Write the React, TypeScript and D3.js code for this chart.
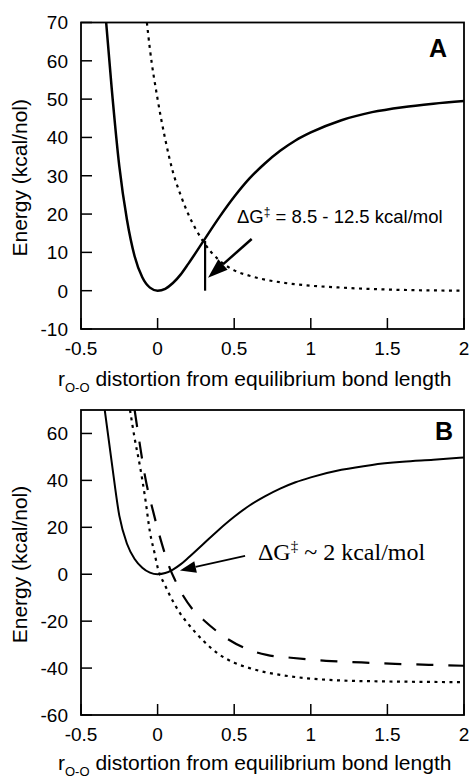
import * as d3 from "d3";

const W = 470;
const H = 781;
const LEFT = 81;
const RIGHT = 464;

const xTicks = [-0.5, 0, 0.5, 1, 1.5, 2];
const yTicksA = [-10, 0, 10, 20, 30, 40, 50, 60, 70];
const yTicksB = [-60, -40, -20, 0, 20, 40, 60];

// panel A: Morse well (solid) and repulsive curve (dotted)
const solidAx = [-0.34, -0.3, -0.25, -0.2, -0.15, -0.1, -0.05, 0, 0.05, 0.1, 0.15, 0.2, 0.3, 0.4, 0.5, 0.6, 0.7, 0.8, 0.9, 1.0, 1.2, 1.4, 1.6, 1.8, 2.0];
const solidAy = [72, 53, 32.5, 18.5, 9, 3.5, 0.8, 0, 0.5, 2, 4.2, 7, 13, 19, 24.5, 29.3, 33.2, 36.5, 39.2, 41.3, 44.5, 46.6, 47.9, 48.8, 49.5];
const dotAx = [-0.07, -0.05, 0, 0.05, 0.1, 0.15, 0.2, 0.25, 0.3, 0.4, 0.5, 0.6, 0.7, 0.8, 1.0, 1.2, 1.5, 2.0];
const dotAy = [70, 63, 50, 39.5, 31, 25, 20, 16, 12.7, 8, 5.3, 3.9, 2.9, 2.2, 1.3, 0.8, 0.3, 0];

// panel B: same well, two product curves
const solidBx = [-0.345, -0.3, -0.25, -0.2, -0.15, -0.1, -0.05, 0, 0.05, 0.1, 0.15, 0.2, 0.3, 0.4, 0.5, 0.6, 0.7, 0.8, 0.9, 1.0, 1.2, 1.4, 1.6, 1.8, 2.0];
const solidBy = [70, 48, 25, 13, 6.5, 2.8, 0.7, 0, 0.5, 2, 4.2, 7, 13, 19, 24.5, 29.3, 33.2, 36.5, 39.2, 41.3, 44.5, 46.6, 47.9, 48.8, 49.8];
const dotBx = [-0.18, -0.15, -0.115, -0.08, -0.05, -0.02, 0, 0.05, 0.1, 0.15, 0.2, 0.3, 0.4, 0.5, 0.6, 0.7, 0.8, 1.0, 1.2, 1.5, 2.0];
const dotBy = [70, 58, 46, 32, 18, 9, 3, -4.9, -11.5, -17, -21.2, -28.5, -34.1, -37.7, -40, -41.7, -42.9, -44.5, -45.3, -45.7, -46];
const dashBx = [-0.15, -0.12, -0.08, -0.03, 0.03, 0.08, 0.114, 0.17, 0.233, 0.3, 0.45, 0.6, 0.712, 0.87, 1.1, 1.33, 1.55, 1.77, 2.0];
const dashBy = [70, 57, 41, 27, 12.5, 2.5, -2.5, -9.5, -15.3, -19.5, -27.3, -32.3, -34.4, -35.6, -36.9, -37.6, -38.2, -38.6, -39];

const barA = { x: 0.31, y0: 0, y1: 13 };
const arrowA = { x0: 0.614, y0: 13.5, x1: 0.329, y1: 3.4 };
const arrowB = { x0: 0.571, y0: 7.8, x1: 0.146, y1: 1.6 };

const sans = "'Liberation Sans', Arial, sans-serif";
const serif = "'Liberation Serif', 'Times New Roman', serif";

type Curve = { xs: number[]; ys: number[]; dash?: string; width: number };

function Arrow(props: { p0: [number, number]; p1: [number, number]; len: number; half: number; width: number }) {
  const { p0, p1, len, half, width } = props;
  const dx = p1[0] - p0[0], dy = p1[1] - p0[1];
  const d = Math.hypot(dx, dy);
  const ux = dx / d, uy = dy / d;
  const bx = p1[0] - ux * len, by = p1[1] - uy * len;
  const pts = [
    [p1[0], p1[1]],
    [bx - uy * half, by + ux * half],
    [bx + uy * half, by - ux * half],
  ];
  return (
    <g>
      <line x1={p0[0]} y1={p0[1]} x2={bx} y2={by} stroke="#000" strokeWidth={width} />
      <polygon points={pts.map((p) => p.join(",")).join(" ")} fill="#000" />
    </g>
  );
}

function Panel(props: {
  id: string; top: number; bottom: number; yDomain: [number, number]; yTicks: number[];
  curves: Curve[]; label: string; labelDx: number; labelDy: number; xLabelDy: number;
  make: (x: d3.ScaleLinear<number, number>, y: d3.ScaleLinear<number, number>) => any;
}) {
  const { id, top, bottom, yDomain, yTicks, curves, label, labelDx, labelDy, xLabelDy, make } = props;
  const x = d3.scaleLinear([-0.5, 2], [LEFT, RIGHT]);
  const y = d3.scaleLinear(yDomain, [bottom, top]);
  const tickLen = 11;
  return (
    <g>
      <defs>
        <clipPath id={id}>
          <rect x={LEFT} y={top} width={RIGHT - LEFT} height={bottom - top} />
        </clipPath>
      </defs>
      <g clipPath={`url(#${id})`}>
        {curves.map((c, i) => {
          const gen = d3.line<number>().curve(d3.curveMonotoneX).x((_, k) => x(c.xs[k])).y((_, k) => y(c.ys[k]));
          return (
            <path key={i} d={gen(c.xs) || ""} fill="none" stroke="#000" strokeWidth={c.width}
              strokeDasharray={c.dash} strokeLinejoin="round" />
          );
        })}
      </g>
      {make(x, y)}
      {yTicks.map((t) => (
        <g key={t}>
          <line x1={LEFT} x2={LEFT + tickLen} y1={y(t)} y2={y(t)} stroke="#000" strokeWidth={1.5} />
          <text x={LEFT - 13} y={y(t)} dy="0.36em" textAnchor="end" fontFamily={sans} fontSize={19}>{t}</text>
        </g>
      ))}
      {xTicks.map((t) => (
        <g key={t}>
          <line x1={x(t)} x2={x(t)} y1={bottom} y2={bottom - tickLen} stroke="#000" strokeWidth={1.5} />
          <text x={x(t)} y={bottom + 26} textAnchor="middle" fontFamily={sans} fontSize={19}>{t}</text>
        </g>
      ))}
      <rect x={LEFT} y={top} width={RIGHT - LEFT} height={bottom - top} fill="none" stroke="#000" strokeWidth={1.8} />
      <text x={RIGHT - labelDx} y={top + labelDy} textAnchor="end" fontFamily={sans} fontWeight="bold" fontSize={25}>{label}</text>
      <text transform={`translate(27,${(top + bottom) / 2 + 2}) rotate(-90)`} textAnchor="middle" fontFamily={sans} fontSize={21}>
        Energy (kcal/nol)
      </text>
      <text x={58} y={bottom + xLabelDy} fontFamily={sans} fontSize={21}>
        r<tspan fontSize={13} dy={6}>O-O</tspan><tspan dy={-6}> distortion from equilibrium bond length</tspan>
      </text>
    </g>
  );
}

export default function App() {
  return (
    <svg width={W} height={H} style={{ position: "absolute", left: 0, top: 0, background: "#fff" }}>
      <Panel
        id="clipA" top={22.5} bottom={329} yDomain={[-10, 70]} yTicks={yTicksA}
        label="A" labelDx={17} labelDy={34.5} xLabelDy={57}
        curves={[
          { xs: dotAx, ys: dotAy, dash: "3,4.5", width: 2.2 },
          { xs: solidAx, ys: solidAy, width: 2.5 },
        ]}
        make={(x, y) => (
          <g>
            <line x1={x(barA.x)} x2={x(barA.x)} y1={y(barA.y0)} y2={y(barA.y1)} stroke="#000" strokeWidth={2.2} />
            <Arrow p0={[x(arrowA.x0), y(arrowA.y0)]} p1={[x(arrowA.x1), y(arrowA.y1)]} len={20} half={7} width={2.5} />
            <text x={x(0.518)} y={y(17.7)} fontFamily={sans} fontSize={18.5}>
              ΔG<tspan fontSize={12} dy={-7}>‡</tspan><tspan dy={7}> = 8.5 - 12.5 kcal/mol</tspan>
            </text>
          </g>
        )}
      />
      <Panel
        id="clipB" top={410} bottom={715} yDomain={[-60, 70]} yTicks={yTicksB}
        label="B" labelDx={11} labelDy={30} xLabelDy={55}
        curves={[
          { xs: dotBx, ys: dotBy, dash: "3,4.5", width: 2.2 },
          { xs: dashBx, ys: dashBy, dash: "17,15", width: 2.2 },
          { xs: solidBx, ys: solidBy, width: 2 },
        ]}
        make={(x, y) => (
          <g>
            <Arrow p0={[x(arrowB.x0), y(arrowB.y0)]} p1={[x(arrowB.x1), y(arrowB.y1)]} len={16} half={6} width={1.8} />
            <text x={x(0.655)} y={y(6)} fontFamily={serif} fontSize={24}>
              ΔG<tspan fontSize={15} dy={-9}>‡</tspan><tspan dy={9}> ~ 2 kcal/mol</tspan>
            </text>
          </g>
        )}
      />
    </svg>
  );
}
